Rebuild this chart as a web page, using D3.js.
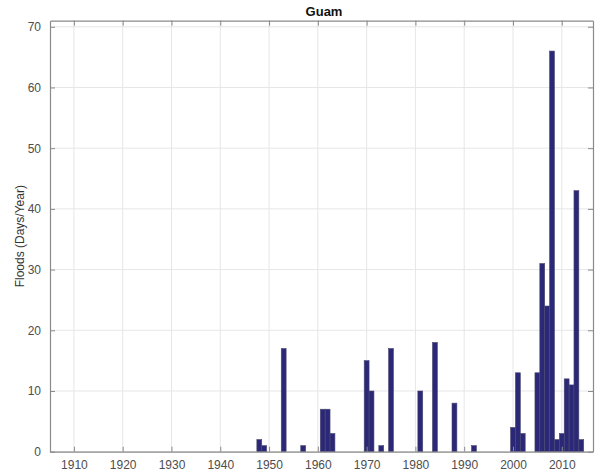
<!DOCTYPE html>
<html><head><meta charset="utf-8">
<script src="https://cdn.jsdelivr.net/npm/d3@7"></script>
<style>body{margin:0;background:#fff}svg{display:block}</style>
</head><body>
<svg id="c" width="597" height="475"></svg>
<script>
const years  = [1948,1949,1953,1957,1961,1962,1963,1970,1971,1973,1975,1981,1984,1988,1992,2000,2001,2002,2005,2006,2007,2008,2009,2010,2011,2012,2013,2014];
const floods = [2,1,17,1,7,7,3,15,10,1,17,10,18,8,1,4,13,3,13,31,24,66,2,3,12,11,43,2];
const xTicks = [1910,1920,1930,1940,1950,1960,1970,1980,1990,2000,2010];
const yTicks = [0,10,20,30,40,50,60,70];
const title = "Guam";
const yLabel = "Floods (Days/Year)";

const svg = d3.select("#c");
const L = 50, R = 593, T = 20.7, B = 451.7;
const x = d3.scaleLinear().domain([1905.1, 2016.4]).range([L, R]);
const y = d3.scaleLinear().domain([0, 71]).range([B, T]);
const font = "'Liberation Sans', Arial, sans-serif";

// grid
const g = svg.append("g");
g.selectAll(".gx").data(xTicks).join("line")
  .attr("x1", d => x(d)).attr("x2", d => x(d)).attr("y1", T).attr("y2", B)
  .attr("stroke", "#e6e6e6").attr("stroke-width", 1);
g.selectAll(".gy").data(yTicks).join("line")
  .attr("y1", d => y(d)).attr("y2", d => y(d)).attr("x1", L).attr("x2", R)
  .attr("stroke", "#e6e6e6").attr("stroke-width", 1);

// bars
const bw = x(1) - x(0);
svg.append("g").selectAll("rect").data(years).join("rect")
  .attr("x", (d) => x(d - 0.5))
  .attr("width", bw)
  .attr("y", (d, i) => y(floods[i]))
  .attr("height", (d, i) => y(0) - y(floods[i]))
  .attr("fill", "#2c2878")
  .attr("stroke", "#4a4870")
  .attr("stroke-width", 0.6);

// axes
const axCol = "#8a8a8a";
const xb = d3.axisBottom(x).tickValues(xTicks).tickFormat(d3.format("d")).tickSizeInner(-5).tickSizeOuter(0).tickPadding(9);
const xt = d3.axisTop(x).tickValues(xTicks).tickFormat("").tickSizeInner(-5).tickSizeOuter(0);
const yl = d3.axisLeft(y).tickValues(yTicks).tickSizeInner(-5).tickSizeOuter(0).tickPadding(9);
const yr = d3.axisRight(y).tickValues(yTicks).tickFormat("").tickSizeInner(-5).tickSizeOuter(0);

function style(sel){
  sel.select(".domain").attr("stroke", axCol).attr("stroke-width", 1.2);
  sel.selectAll(".tick line").attr("stroke", axCol);
  sel.selectAll("text").attr("fill", "#4d4d4d").style("font-family", font).style("font-size", "12px");
}
svg.append("g").attr("transform", `translate(0,${B})`).call(xb).call(style);
svg.append("g").attr("transform", `translate(0,${T})`).call(xt).call(style);
svg.append("g").attr("transform", `translate(${L},0)`).call(yl).call(style);
svg.append("g").attr("transform", `translate(${R},0)`).call(yr).call(style);

// title
svg.append("text").attr("x", 324).attr("y", 15.5)
  .attr("text-anchor", "middle").style("font-family", font)
  .style("font-size", "13px").style("font-weight", "bold").attr("fill", "#111").text(title);

// y label
svg.append("text").attr("transform", `translate(24,${(T + B) / 2}) rotate(-90)`)
  .attr("text-anchor", "middle").style("font-family", font)
  .style("font-size", "12px").attr("fill", "#333").text(yLabel);
</script>
</body></html>
